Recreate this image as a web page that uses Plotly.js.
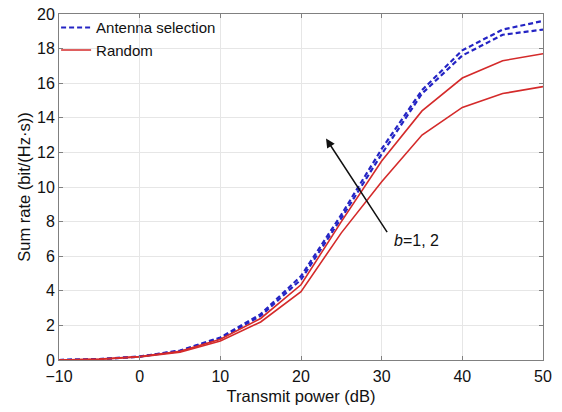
<!DOCTYPE html>
<html><head><meta charset="utf-8">
<script src="https://cdn.plot.ly/plotly-3.0.1.min.js"></script>
<style>body{margin:0;background:#fff}#c{width:562px;height:412px}</style>
</head><body><div id="c"></div>
<script>
const power = [-10, -5, 0, 5, 10, 15, 20, 25, 30, 35, 40, 45, 50];
const antennaB2 = [0.0, 0.05, 0.2, 0.55, 1.3, 2.65, 4.85, 8.4, 12.2, 15.6, 17.9, 19.1, 19.6];
const antennaB1 = [0.0, 0.05, 0.2, 0.52, 1.25, 2.55, 4.65, 8.2, 11.9, 15.4, 17.6, 18.8, 19.1];
const randomB2 = [0.0, 0.05, 0.2, 0.5, 1.2, 2.4, 4.35, 8.0, 11.5, 14.4, 16.3, 17.3, 17.7];
const randomB1 = [0.0, 0.04, 0.18, 0.45, 1.1, 2.2, 3.95, 7.35, 10.3, 13.0, 14.6, 15.4, 15.8];
const xTicks = [-10, 0, 10, 20, 30, 40, 50];
const xTickText = ['\u221210', '0', '10', '20', '30', '40', '50'];
const yTicks = [0, 2, 4, 6, 8, 10, 12, 14, 16, 18, 20];

const blue = '#2424c4', red = '#d42a2a';
const traces = [
  {x: power, y: antennaB2, mode: 'lines', name: 'Antenna selection', line: {color: blue, dash: '5px,3px', width: 2.2}},
  {x: power, y: antennaB1, mode: 'lines', name: 'Antenna selection', showlegend: false, line: {color: blue, dash: '5px,3px', width: 2.2}},
  {x: power, y: randomB2, mode: 'lines', name: 'Random', line: {color: red, width: 1.6}},
  {x: power, y: randomB1, mode: 'lines', name: 'Random', showlegend: false, line: {color: red, width: 1.6}}
];
const axisCommon = {
  showline: true, linecolor: '#808080', linewidth: 1, mirror: 'ticks',
  ticks: 'inside', ticklen: 4, tickcolor: '#808080',
  showgrid: true, gridcolor: '#e6e6e6', zeroline: false,
  tickfont: {family: 'Liberation Sans, Arial, sans-serif', size: 16, color: '#111'}
};
const layout = {
  width: 562, height: 412,
  margin: {l: 59, r: 19, t: 13, b: 52},
  paper_bgcolor: '#fff', plot_bgcolor: '#fff',
  font: {family: 'Liberation Sans, Arial, sans-serif', color: '#111'},
  xaxis: Object.assign({}, axisCommon, {range: [-10, 50], tickvals: xTicks, ticktext: xTickText,
    ticklabelstandoff: 2,
    title: {text: 'Transmit power (dB)', font: {size: 16.5}, standoff: 6}}),
  yaxis: Object.assign({}, axisCommon, {range: [0, 20], tickvals: yTicks,
    title: {text: 'Sum rate (bit/(Hz\u00b7s))', font: {size: 16.5}, standoff: 2}}),
  showlegend: true,
  legend: {x: -0.006, y: 1.005, xanchor: 'left', yanchor: 'top', bgcolor: 'rgba(255,255,255,0)',
    font: {size: 15, family: 'Liberation Sans, Arial, sans-serif'}, tracegroupgap: 0, itemwidth: 30},
  annotations: [
    {x: 23.1, y: 12.8, ax: 30.8, ay: 7.3, xref: 'x', yref: 'y', axref: 'x', ayref: 'y',
     showarrow: true, arrowhead: 2, arrowsize: 1.2, arrowwidth: 1.5, arrowcolor: '#111', text: ''},
    {x: 31.3, y: 6.9, xref: 'x', yref: 'y', xanchor: 'left', yanchor: 'middle', showarrow: false,
     text: '<i>b</i>=1, 2', font: {size: 16, color: '#111'}}
  ]
};
Plotly.newPlot('c', traces, layout, {displayModeBar: false, staticPlot: true});
</script></body></html>
